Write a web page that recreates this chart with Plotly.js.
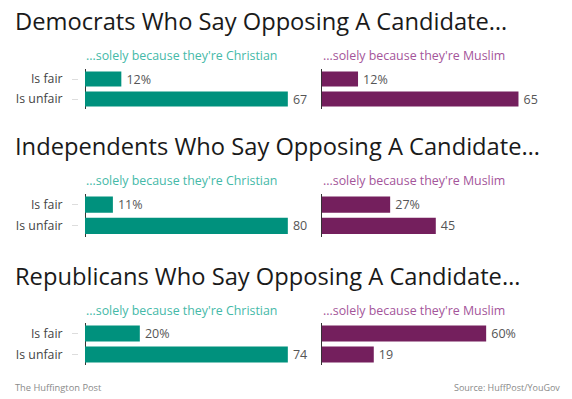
<!DOCTYPE html>
<html>
<head>
<meta charset="utf-8">
<script src="https://cdn.plot.ly/plotly-3.0.1.min.js"></script>
<style>
html,body{margin:0;padding:0;background:#fff;}
#chart{width:572px;height:399px;}
</style>
</head>
<body>
<div id="chart"></div>
<script>
// ---- data ----
const categories = ['Is fair', 'Is unfair'];
const groupTitles = [
  'Democrats Who Say Opposing A Candidate…',
  'Independents Who Say Opposing A Candidate…',
  'Republicans Who Say Opposing A Candidate…'
];
const subtitles = ["...solely because they're Christian", "...solely because they're Muslim"];
const christianFair   = [12, 11, 20];
const christianUnfair = [67, 80, 74];
const muslimFair      = [12, 27, 60];
const muslimUnfair    = [65, 45, 19];
const sourceLeft  = 'The Huffington Post';
const sourceRight = 'Source: HuffPost/YouGov';

// ---- layout helpers ----
const W = 572, H = 399;
const FONT = '"Open Sans", sans-serif';
const barColors = ['#00917d', '#741f5d'];
const subColors = ['#45b9a8', '#a4559a'];
const rowPx = [[69, 109], [194, 236.5], [323, 365]];
const titleY = [21, 146, 275.5];
const subY = [55, 181, 310];
const colStart = [85, 321.7];
const colWidth = 215;

const px2x = p => p / W;
const px2y = p => 1 - p / H;

const data = [];
const layout = {
  width: W, height: H,
  margin: {l: 0, r: 0, t: 0, b: 0},
  paper_bgcolor: '#fff', plot_bgcolor: '#fff',
  showlegend: false,
  bargap: 0.24,
  font: {family: FONT, color: '#444'},
  annotations: [],
};

const cols = [[christianFair, christianUnfair], [muslimFair, muslimUnfair]];
let n = 0;
for (let r = 0; r < 3; r++) {
  const rowMax = Math.max(christianFair[r], christianUnfair[r], muslimFair[r], muslimUnfair[r]);
  for (let c = 0; c < 2; c++) {
    n++;
    const xa = 'x' + (n === 1 ? '' : n), ya = 'y' + (n === 1 ? '' : n);
    const vals = [cols[c][0][r], cols[c][1][r]];
    data.push({
      type: 'bar', orientation: 'h',
      x: vals, y: categories,
      xaxis: xa, yaxis: ya,
      marker: {color: barColors[c]},
      text: ['\u2009' + vals[0] + '%', '\u2009' + vals[1]],
      textposition: 'outside',
      constraintext: 'none',
      cliponaxis: false,
      textfont: {family: FONT, size: 12.5, color: '#555'},
      hoverinfo: 'none'
    });
    const xKey = 'xaxis' + (n === 1 ? '' : n), yKey = 'yaxis' + (n === 1 ? '' : n);
    layout[xKey] = {
      domain: [px2x(colStart[c]), px2x(colStart[c] + colWidth)],
      range: [0, rowMax * 1.06],
      anchor: ya,
      showgrid: false, showticklabels: false, ticks: '',
      zeroline: true, zerolinecolor: '#333', zerolinewidth: 1,
      showline: false, fixedrange: true
    };
    layout[yKey] = {
      domain: [px2y(rowPx[r][1]), px2y(rowPx[r][0])],
      anchor: 'free',
      position: c === 0 ? px2x(78) : px2x(colStart[c]),
      autorange: 'reversed',
      showgrid: false, zeroline: false, showline: false,
      ticks: c === 0 ? 'outside' : '', ticklen: 6, tickcolor: '#dddddd',
      showticklabels: c === 0,
      ticklabelstandoff: 7,
      tickfont: {family: FONT, size: 12.3, color: '#444'},
      fixedrange: true
    };
    layout.annotations.push({
      xref: 'paper', yref: 'paper',
      x: px2x(colStart[c] - 1), y: px2y(subY[r]),
      xanchor: 'left', yanchor: 'middle',
      text: subtitles[c], showarrow: false,
      font: {family: FONT, size: 12.4, color: subColors[c]}
    });
  }
  layout.annotations.push({
    xref: 'paper', yref: 'paper',
    x: px2x(13), y: px2y(titleY[r]),
    xanchor: 'left', yanchor: 'middle',
    text: groupTitles[r], showarrow: false,
    font: {family: FONT, size: 23.7, color: '#1a1a1a'}
  });
}
layout.annotations.push({
  xref: 'paper', yref: 'paper', x: px2x(13), y: px2y(387),
  xanchor: 'left', yanchor: 'middle', text: sourceLeft, showarrow: false,
  font: {family: FONT, size: 9.3, color: '#8a8a8a'}
});
layout.annotations.push({
  xref: 'paper', yref: 'paper', x: px2x(562), y: px2y(387),
  xanchor: 'right', yanchor: 'middle', text: sourceRight, showarrow: false,
  font: {family: FONT, size: 9, color: '#8a8a8a'}
});

Plotly.newPlot('chart', data, layout, {displayModeBar: false, staticPlot: true});
</script>
</body>
</html>
